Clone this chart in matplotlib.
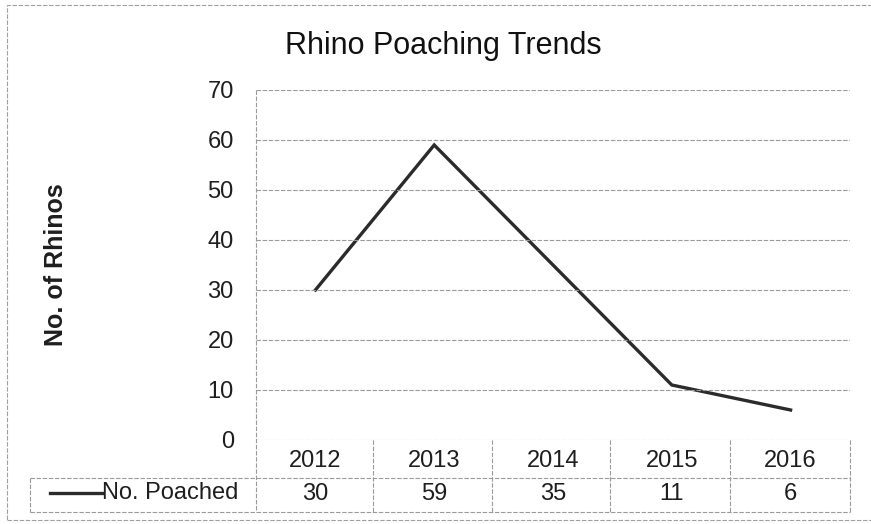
import matplotlib.pyplot as plt
import matplotlib.transforms as mtrans
from matplotlib.lines import Line2D
from matplotlib.patches import Rectangle

years = ['2012', '2013', '2014', '2015', '2016']
poached = [30, 59, 35, 11, 6]
series_name = 'No. Poached'
yticks = [0, 10, 20, 30, 40, 50, 60, 70]

W, H = 871, 524
plt.rcParams['font.family'] = ['Liberation Sans', 'DejaVu Sans']

fig = plt.figure(figsize=(W / 100, H / 100), dpi=100)

def fx(px):
    return px / W

def fy(py):
    # pixel y from top -> figure fraction
    return 1 - py / H

grid_kw = dict(color='#9a9a9a', lw=0.8, ls=(0, (4, 1.5)))
txt_col = '#1e1e1e'

ax = fig.add_axes([fx(256), fy(440), fx(850 - 256), (440 - 90) / H])
x = list(range(len(years)))
ax.plot(x, poached, color='#2b2b2b', lw=2.4, solid_joinstyle='miter')
ax.set_xlim(-0.5, len(years) - 0.5)
ax.set_ylim(0, 70)
ax.set_yticks(yticks)
ax.set_xticks([])
ax.tick_params(axis='y', length=0, pad=16, labelsize=17, colors=txt_col)
for s in ax.spines.values():
    s.set_visible(False)
for t in yticks:
    ax.axhline(t, **grid_kw)
ax.set_ylabel('No. of Rhinos', fontsize=18, fontweight='bold', color=txt_col)
ax.yaxis.set_label_coords(-0.316, 0.5)

fig.text(fx(443), fy(46), 'Rhino Poaching Trends', fontsize=22, ha='center', va='center', color='#111111')

# data table under the plot
trans = mtrans.blended_transform_factory(ax.transData, fig.transFigure)
for i, (yr, v) in enumerate(zip(years, poached)):
    ax.text(i, fy(461), yr, transform=trans, ha='center', va='center', fontsize=17, color=txt_col)
    ax.text(i, fy(494), str(v), transform=trans, ha='center', va='center', fontsize=17, color=txt_col)

lines = []
# vertical left edge of plot area down through table
lines.append(Line2D([fx(256), fx(256)], [fy(90), fy(512)], **grid_kw))
lines.append(Line2D([fx(850), fx(850)], [fy(440), fy(512)], **grid_kw))
for b in [373, 492, 610, 730]:
    lines.append(Line2D([fx(b), fx(b)], [fy(440), fy(512)], **grid_kw))
lines.append(Line2D([fx(30), fx(850)], [fy(478), fy(478)], **grid_kw))
lines.append(Line2D([fx(30), fx(850)], [fy(512), fy(512)], **grid_kw))
lines.append(Line2D([fx(30), fx(30)], [fy(478), fy(512)], **grid_kw))
# legend key
lines.append(Line2D([fx(50), fx(102)], [fy(493), fy(493)], color='#2b2b2b', lw=2.4))
for l in lines:
    fig.add_artist(l)
fig.text(fx(102), fy(493), series_name, fontsize=17, ha='left', va='center', color=txt_col)

# outer chart frame
fig.add_artist(Rectangle((fx(7), fy(520)), fx(900), fy(5) - fy(520), transform=fig.transFigure,
                         fill=False, ec='#a0a0a0', lw=0.8, ls=(0, (4, 1.5))))

fig.savefig('out.png', dpi=100)
